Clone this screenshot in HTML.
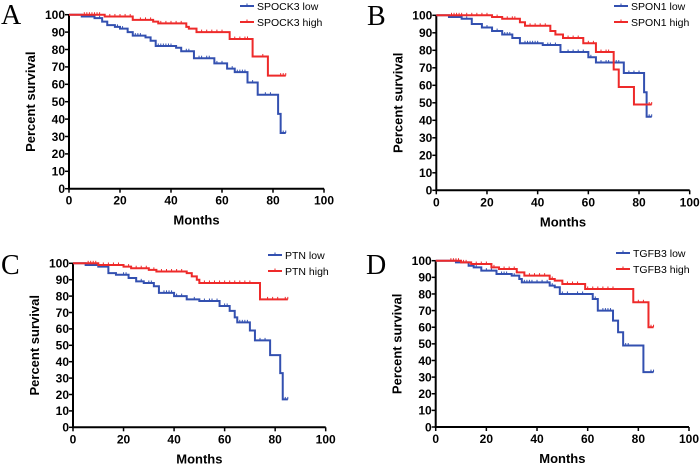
<!DOCTYPE html>
<html><head><meta charset="utf-8">
<style>
html,body{margin:0;padding:0;background:#fff;}
svg{display:block;font-family:"Liberation Sans",Arial,sans-serif;}
.tick{font-size:12px;font-weight:bold;fill:#000;}
.axt{font-size:13px;font-weight:bold;fill:#000;}
.leg{font-size:10.5px;fill:#000;}
.pl{font-family:"Liberation Serif",serif;font-size:28px;fill:#000;}
</style></head>
<body>
<svg id="chart" width="700" height="468" viewBox="0 0 700 468"></svg>
<script>
const xTicks=[0,20,40,60,80,100];
const yTicks=[0,10,20,30,40,50,60,70,80,90,100];
const panelLetters=["A","B","C","D"];
const genes=["SPOCK3","SPON1","PTN","TGFB3"];
// step curves: times and survival values after each step
const aLowT=[0,5,10,13,15,18,20,23,25,30,32,34,42,44,49,57,62,65,70,74,82,83,85];
const aLowS=[100,99,98,96,94,93,92,90,88,87,85,82,81,79,75,72,69,67,61,54,43,32,32];
const aHighT=[0,14,25,33,35,46,47,50,63,72,78,85];
const aHighS=[100,99,97,96,95,93,92,90,86,76,65,65];
const bLowT=[0,5,10,14,18,22,26,30,33,42,49,60,63,74,82,83,85];
const bLowS=[100,99,98,95,93,91,89,87,84,83,79,76,73,67,56,42,42];
const bHighT=[0,22,26,33,35,45,47,50,58,63,70,72,78,85];
const bHighS=[100,99,98,96,94,91,89,87,84,79,69,59,49,49];
const cLowT=[0,5,10,14,17,22,25,28,32,34,40,45,50,58,62,64,65,70,72,78,82,83,85];
const cLowS=[100,99,98,94,93,91,89,88,86,82,80,78,77,74,71,67,64,59,53,44,33,17,17];
const cHighT=[0,10,20,23,30,33,45,47,49,50,74,85];
const cHighS=[100,99,98,97,96,95,94,92,90,88,78,78];
const dLowT=[0,8,13,15,18,24,30,33,34,45,47,49,62,64,70,72,74,82,86];
const dLowS=[100,99,97,96,94,92,91,89,87,85,84,80,77,70,64,57,49,33,33];
const dHighT=[0,10,14,22,25,32,35,45,47,50,59,78,84,86];
const dHighS=[100,99,98,96,95,93,91,89,88,86,83,75,60,60];
// censor times
const aLowC=[8,12,19,21,26,27,28,35,36,37,38,39,40,46,47,51,52,54,55,58,60,64,66,67,68,69,72,77,79,84,85];
const aHighC=[6,7,8,9,10,11,12,16,18,20,22,24,28,30,32,36,38,40,42,44,52,54,56,58,60,65,67,69,70,76,83,84,85];
const bLowC=[8,12,20,24,27,28,29,35,36,37,38,39,40,44,45,47,52,54,56,58,61,65,67,68,70,71,72,76,78,80,84,85];
const bHighC=[6,7,8,9,10,12,14,16,18,20,24,28,30,31,37,39,41,43,52,54,56,60,62,65,67,68,84,85];
const cLowC=[9,12,20,21,27,30,31,36,37,38,39,41,43,48,52,54,55,57,60,61,66,67,68,69,74,76,84,85];
const cHighC=[6,7,8,9,12,14,16,18,22,25,27,29,32,35,37,39,41,43,52,54,56,58,60,62,64,66,68,70,77,79,81,84,85];
const dLowC=[10,16,20,22,26,27,28,31,35,36,37,38,40,42,44,46,50,52,56,58,63,66,67,68,69,75,76,85,86];
const dHighC=[6,7,8,9,11,12,16,18,20,23,27,29,31,37,39,41,43,46,52,54,56,60,62,64,66,68,70,80,82,85,86];

const series=[[aLowT,aLowS,aLowC,aHighT,aHighS,aHighC],[bLowT,bLowS,bLowC,bHighT,bHighS,bHighC],[cLowT,cLowS,cLowC,cHighT,cHighS,cHighC],[dLowT,dLowS,dLowC,dHighT,dHighS,dHighC]];
const boxes=[{x0:69,x1:324,y0:188.7,y1:14.7,lx:240,ly:6},{x0:436.3,x1:689.7,y0:190.3,y1:15.3,lx:614,ly:6},{x0:73,x1:325.7,y0:427.3,y1:263.3,lx:268,ly:255},{x0:435.7,x1:689,y0:427,y1:260.7,lx:616,ly:253}];
const letterPos=[[1,24],[367,25],[1,274],[366,274]];
const NS="http://www.w3.org/2000/svg";
const svg=document.getElementById('chart');
function el(t,a,p){const e=document.createElementNS(NS,t);for(const k in a)e.setAttribute(k,a[k]);(p||svg).appendChild(e);return e;}
function survAt(T,S,t){let v=S[0];for(let i=0;i<T.length;i++){if(T[i]<=t)v=S[i];}return v;}

boxes.forEach((b,pi)=>{
  const g=el('g',{});
  
  
  const X=v=>b.x0+(b.x1-b.x0)*v/100;
  const Y=v=>b.y0+(b.y1-b.y0)*v/100;
  const L=el('text',{x:letterPos[pi][0],y:letterPos[pi][1],class:'pl'},g);L.textContent=panelLetters[pi];
  
  
  const ax=el('path',{d:`M${b.x0},${b.y1}V${b.y0}H${b.x1}`,stroke:'#000','stroke-width':2,fill:'none'},g);
  
  
  yTicks.forEach(v=>{
    el('line',{x1:b.x0-4,x2:b.x0,y1:Y(v),y2:Y(v),stroke:'#000','stroke-width':1.5},g);
    const t=el('text',{x:b.x0-4,y:Y(v)+4.3,'text-anchor':'end',class:'tick'},g);t.textContent=v;
    
    
  });
  xTicks.forEach(v=>{
    el('line',{x1:X(v),x2:X(v),y1:b.y0,y2:b.y0+4,stroke:'#000','stroke-width':1.5},g);
    const t=el('text',{x:X(v),y:b.y0+16,'text-anchor':'middle',class:'tick'},g);t.textContent=v;
    
    
  });
  const xt=el('text',{x:(b.x0+b.x1)/2,y:b.y0+36,'text-anchor':'middle',class:'axt'},g);xt.textContent='Months';
  
  
  const cy=(b.y0+b.y1)/2;
  const tx=b.x0-34;
  const yt=el('text',{x:tx,y:cy,'text-anchor':'middle',class:'axt',transform:`rotate(-90 ${tx} ${cy})`},g);yt.textContent='Percent survival';
  
  
  const s=series[pi];
  [[0,'#3350b0','low'],[3,'#ee2a2a','high']].forEach(([o,col,nm])=>{
    const T=s[o],S=s[o+1],C=s[o+2];
    let d=`M${X(T[0])},${Y(S[0])}`;
    for(let i=1;i<T.length;i++){d+=`H${X(T[i])}V${Y(S[i])}`;}
    const p=el('path',{d:d,stroke:col,'stroke-width':2,fill:'none'},g);
    
    
    C.forEach(t=>{
      const v=survAt(T,S,t);
      const c=el('line',{x1:X(t),x2:X(t),y1:Y(v)-2.5,y2:Y(v),stroke:col,'stroke-width':1},g);
      
      
    });
    const ly=b.ly+(o?16:0);
    const lg=el('g',{},g);
    
    
    el('line',{x1:b.lx,x2:b.lx+14,y1:ly,y2:ly,stroke:col,'stroke-width':2},lg);
    el('line',{x1:b.lx+7,x2:b.lx+7,y1:ly-2.5,y2:ly,stroke:col,'stroke-width':1},lg);
    const lt=el('text',{x:b.lx+17,y:ly+4,class:'leg'},lg);lt.textContent=genes[pi]+' '+nm;
  });
});
</script>
</body></html>
